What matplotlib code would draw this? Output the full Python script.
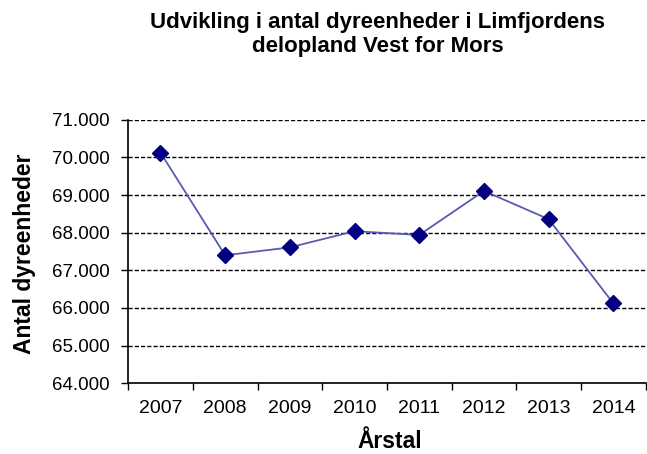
import matplotlib
matplotlib.use("Agg")
import matplotlib.pyplot as plt
from matplotlib.ticker import FuncFormatter
import numpy as np

plt.rcParams['font.family'] = ['Liberation Sans', 'DejaVu Sans']

aar = ['2007', '2008', '2009', '2010', '2011', '2012', '2013', '2014']
dyreenheder = [70130, 67400, 67610, 68040, 67940, 69110, 68360, 66120]

fig = plt.figure(figsize=(6.47, 4.54), dpi=100)
ax = fig.add_axes([0.198, 0.156, 0.800, 0.580])

x = np.arange(len(aar))
ax.plot(x, dyreenheder, color='#5a5ab0', linewidth=1.3, marker='D',
        markersize=8, markerfacecolor='#000080', markeredgecolor='#000080', zorder=3)

ax.set_ylim(64000, 71000)
ax.set_yticks(np.arange(64000, 71001, 1000))
ax.yaxis.set_major_formatter(FuncFormatter(lambda v, p: f"{int(v):,}".replace(',', '.')))
ax.yaxis.grid(True, color='black', linestyle=(0, (3, 1.5)), linewidth=1)
ax.set_axisbelow(True)

ax.set_xlim(-0.5, len(aar) - 0.5)
ax.set_xticks(np.arange(-0.5, len(aar)), labels=[''] * (len(aar) + 1))
ax.set_xticks(x, labels=aar, minor=True)
ax.tick_params(axis='x', which='minor', length=0, pad=12, labelsize=14)
ax.tick_params(axis='x', which='major', length=5, width=1, direction='out')
ax.tick_params(axis='y', length=5, width=1, direction='out', labelsize=13.5, pad=8)

for s in ['top', 'right']:
    ax.spines[s].set_visible(False)
for s in ['left', 'bottom']:
    ax.spines[s].set_linewidth(1.2)

# akse-titler placeret som i originalen
fig.text(0.603, 1.5 / 454, 'Årstal', ha='center', va='bottom',
         fontsize=16.5, fontweight='bold')
fig.text(0.038, 0.44, 'Antal dyreenheder', ha='center', va='center',
         rotation=90, fontsize=16.5, fontweight='bold')

fig.text(0.584, 0.924, 'Udvikling i antal dyreenheder i Limfjordens\ndelopland Vest for Mors',
         ha='center', va='center', fontsize=16, fontweight='bold', linespacing=1.15)

fig.savefig('out.png', dpi=100)
